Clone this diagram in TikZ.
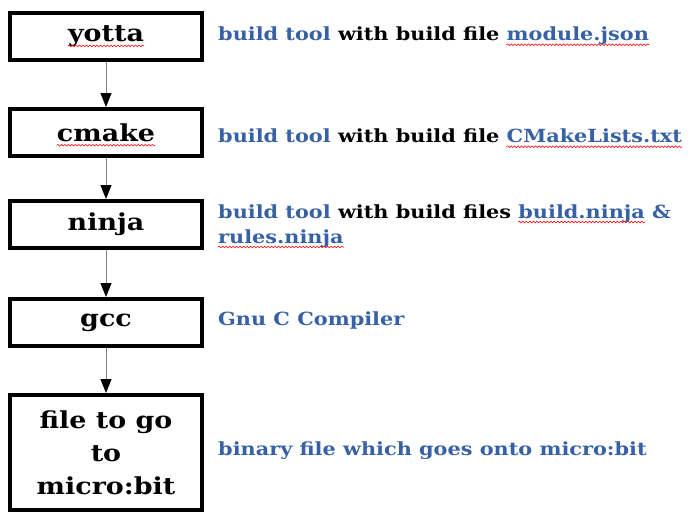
\documentclass[tikz,border=0pt]{standalone}
\usepackage{fontspec}
\setmainfont{DejaVu Serif}[FakeStretch=1.15]
\usepackage{tikz}
\usetikzlibrary{arrows.meta,snakes}
\definecolor{tooltext}{RGB}{55,97,165}
\newcommand{\squig}[1]{\tikz[baseline=(sq.base)]{\node[inner sep=0pt,minimum size=0pt,draw=none,anchor=base] (sq) {#1};
  \draw[overlay,red,line width=0.6pt,snake=snake,segment amplitude=0.8pt,segment length=3.5pt] ([yshift=-4pt]sq.base west) -- ([yshift=-4pt]sq.base east);}}

\begin{document}
\begin{tikzpicture}[x=1pt,y=-1pt,
  stage/.style={draw,line width=4pt,minimum width=192pt,minimum height=47pt,inner sep=0pt,align=center,font=\fontsize{23.4}{33}\selectfont\bfseries},
  note/.style={anchor=base west,inner sep=0pt,font=\fontsize{18.1}{25}\selectfont\bfseries,text=tooltext},
  flow/.style={draw=gray,line width=1pt,-{Triangle[length=14pt,width=11pt,black]}}]
\useasboundingbox (0,0) rectangle (690,520);
\node[stage] (yotta) at (106,36.5) {\squig{yotta}};
\node[stage] (cmake) at (106,132.5) {\squig{cmake}};
\node[stage] (ninja) at (106,224.5) {ninja};
\node[stage] (gcc) at (106,322.5) {gcc};
\node[stage,minimum height=115pt] (binfile) at (106,452.5) {file to go\\to\\micro:bit};
\draw[flow] (yotta) -- (cmake);
\draw[flow] (cmake) -- (ninja);
\draw[flow] (ninja) -- (gcc);
\draw[flow] (gcc) -- (binfile);
\node[note] (yottanote) at (218,40.7) {build tool \textcolor{black}{with build file} \squig{module.json}};
\node[note] (cmakenote) at (218,142.7) {build tool \textcolor{black}{with build file} \squig{CMakeLists.txt}};
\node[note] (ninjanote) at (218,218) {build tool \textcolor{black}{with build files} \squig{build.ninja} \&};
\node[note] (ninjanote2) at (218,243) {\squig{rules.ninja}};
\node[note] (gccnote) at (218,325.7) {Gnu C Compiler};
\node[note] (binnote) at (218,455.7) {binary file which goes onto micro:bit};
\end{tikzpicture}
\end{document}
